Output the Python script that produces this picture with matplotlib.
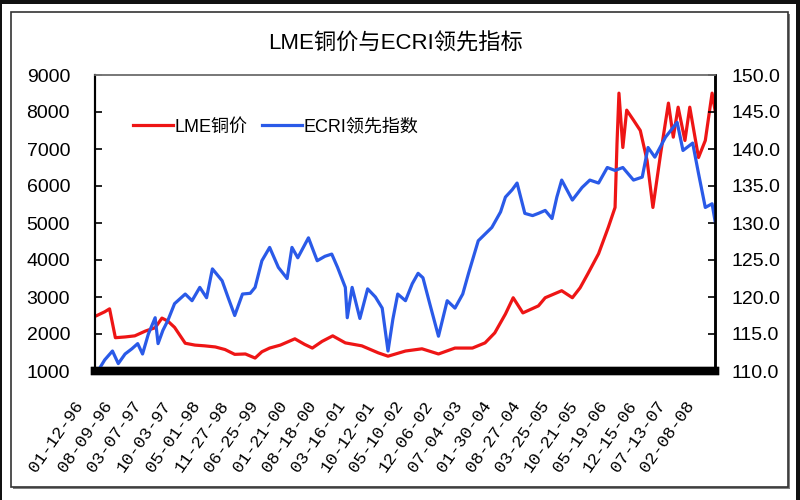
import matplotlib
matplotlib.use("Agg")
import matplotlib.pyplot as plt
import matplotlib.transforms as mtransforms
from matplotlib.patches import Rectangle
from matplotlib.lines import Line2D

plt.rcParams['font.family'] = ['Liberation Sans', 'Noto Sans CJK SC', 'DejaVu Sans']

# x = weeks since 01-12-96
lme_weeks = [2, 10, 15, 21, 31, 41, 52, 62, 69, 75, 82, 93, 103, 113, 124, 134, 144, 155,
             165, 172, 180, 191, 206, 216, 224, 234, 245, 258, 275, 292, 302, 320, 337, 354,
             371, 389, 402, 412, 423, 431, 441, 457, 464, 481, 492, 500, 508, 519, 529, 536,
             538, 540, 544, 548, 555, 562, 569, 575, 583, 591, 596, 601, 608, 613, 622, 629,
             636, 639]
lme_price = [2500, 2600, 2680, 1900, 1920, 1950, 2080, 2170, 2430, 2350, 2180, 1750, 1700,
             1680, 1650, 1580, 1450, 1460, 1350, 1520, 1620, 1700, 1870, 1720, 1620, 1800,
             1950, 1760, 1680, 1490, 1400, 1540, 1600, 1460, 1620, 1620, 1760, 2030, 2540,
             2980, 2570, 2760, 2980, 3170, 2980, 3250, 3630, 4170, 4880, 5420, 7150, 8510,
             7040, 8050, 7780, 7500, 6690, 5420, 6880, 8240, 7320, 8130, 7230, 8130, 6770,
             7230, 8510, 8050]

ecri_weeks = [3, 10, 18, 24, 31, 38, 44, 49, 55, 62, 65, 70, 75, 82, 93, 100, 108, 115, 121,
              131, 137, 144, 152, 160, 165, 172, 180, 189, 198, 203, 209, 220, 229, 237, 244,
              250, 258, 260, 265, 273, 281, 289, 296, 302, 307, 312, 320, 327, 333, 338, 345,
              354, 363, 371, 379, 385, 395, 402, 409, 418, 423, 430, 435, 443, 451, 457, 464,
              471, 476, 481, 492, 502, 510, 519, 528, 536, 544, 555, 564, 570, 577, 588, 600,
              606, 616, 622, 629, 636, 639]
ecri_index = [110.0, 111.5, 112.7, 111.0, 112.3, 113.0, 113.7, 112.3, 115.0, 117.2, 113.7,
              115.5, 116.8, 119.1, 120.4, 119.5, 121.3, 119.9, 123.8, 122.2, 120.0, 117.5,
              120.4, 120.5, 121.3, 124.9, 126.7, 124.0, 122.5, 126.7, 125.3, 128.0, 124.9,
              125.5, 125.8, 124.0, 121.3, 117.2, 121.3, 117.1, 121.1, 120.0, 118.5, 112.7,
              117.0, 120.4, 119.5, 121.8, 123.2, 122.6, 119.1, 114.7, 119.5, 118.5, 120.4,
              123.2, 127.6, 128.5, 129.4, 131.5, 133.5, 134.5, 135.4, 131.3, 131.0, 131.3,
              131.7, 130.6, 133.5, 135.8, 133.1, 134.8, 135.8, 135.4, 137.5, 137.1, 137.5,
              135.8, 136.2, 140.2, 138.9, 141.6, 143.6, 139.8, 140.8, 136.7, 132.1, 132.6,
              130.3]

tick_labels = ['01-12-96', '08-09-96', '03-07-97', '10-03-97', '05-01-98', '11-27-98',
               '06-25-99', '01-21-00', '08-18-00', '03-16-01', '10-12-01', '05-10-02',
               '12-06-02', '07-04-03', '01-30-04', '08-27-04', '03-25-05', '10-21-05',
               '05-19-06', '12-15-06', '07-13-07', '02-08-08']

fig = plt.figure(figsize=(8, 5), dpi=100)
fig.patch.set_facecolor('white')

# outer chart frame with shadow, plus dark image edges
fig.patches.append(Rectangle((13 / 800, 1 - 489 / 500), 777 / 800, 475 / 500,
                             transform=fig.transFigure, facecolor='#808080', edgecolor='none', zorder=-10))
fig.patches.append(Rectangle((11 / 800, 1 - 487 / 500), 777 / 800, 475 / 500,
                             transform=fig.transFigure, facecolor='white', edgecolor='#333333',
                             linewidth=1.2, zorder=-9))
for r in [(0, 1 - 4 / 500, 1, 4 / 500), (0, 0, 2 / 800, 1), (1 - 4 / 800, 0, 4 / 800, 1)]:
    fig.patches.append(Rectangle(r[:2], r[2], r[3], transform=fig.transFigure,
                                 facecolor='#111111', edgecolor='none', zorder=-10))

ax = fig.add_axes([95 / 800, 1 - 371 / 500, 620 / 800, 296 / 500])
ax.set_facecolor('none')
ax2 = ax.twinx()

ax.plot(lme_weeks, lme_price, color='#ee1515', linewidth=2.3)
ax2.plot(ecri_weeks, ecri_index, color='#2a5ae8', linewidth=2.3)

ax.set_xlim(0, 639)
ax.set_ylim(1000, 9000)
ax2.set_ylim(110, 150)
ax.set_yticks(range(1000, 9001, 1000))
ax2.set_yticks(range(110, 151, 5))
ax2.set_yticklabels(['%.1f' % v for v in range(110, 151, 5)])

# category labels every 30 weeks, drawn as rotated text below the axis
tick_pos = [30 * i for i in range(len(tick_labels))]
ax.set_xticks(tick_pos)
ax.set_xticklabels([])
ax.tick_params(axis='x', length=0)
lbl_trans = ax.get_xaxis_transform() + mtransforms.ScaledTranslation(-0.21, -0.27, fig.dpi_scale_trans)
for pos, lab in zip(tick_pos, tick_labels):
    ax.text(pos, 0, lab, transform=lbl_trans, rotation=55, ha='right', va='top',
            rotation_mode='anchor', family=['Liberation Mono', 'DejaVu Sans Mono'],
            fontsize=12.5, clip_on=False)

ax.tick_params(axis='y', direction='in', length=5, width=1.2, labelsize=14, pad=18)
ax2.tick_params(axis='y', direction='in', length=5, width=1.2, labelsize=14, pad=12)

for a in (ax, ax2):
    a.spines['bottom'].set_linewidth(6)
    a.spines['bottom'].set_color('black')
    a.spines['left'].set_linewidth(1.5)
    a.spines['right'].set_linewidth(1.8)
    a.spines['top'].set_color('#777777')
    a.spines['top'].set_linewidth(1.2)

fig.text(396 / 800, 1 - 44 / 500, 'LME铜价与ECRI领先指标', ha='center', va='center', fontsize=16)

handles = [Line2D([], [], color='#ee1515', linewidth=2.3),
           Line2D([], [], color='#2a5ae8', linewidth=2.3)]
ax2.legend(handles, ['LME铜价', 'ECRI领先指数'], loc='center left',
           bbox_to_anchor=(133 / 800, 1 - 127 / 500), bbox_transform=fig.transFigure,
           frameon=False, ncol=2, borderaxespad=0, borderpad=0, handlelength=2.2,
           handletextpad=0.1, columnspacing=0.8, fontsize=13)

fig.savefig('out.png', dpi=100)
